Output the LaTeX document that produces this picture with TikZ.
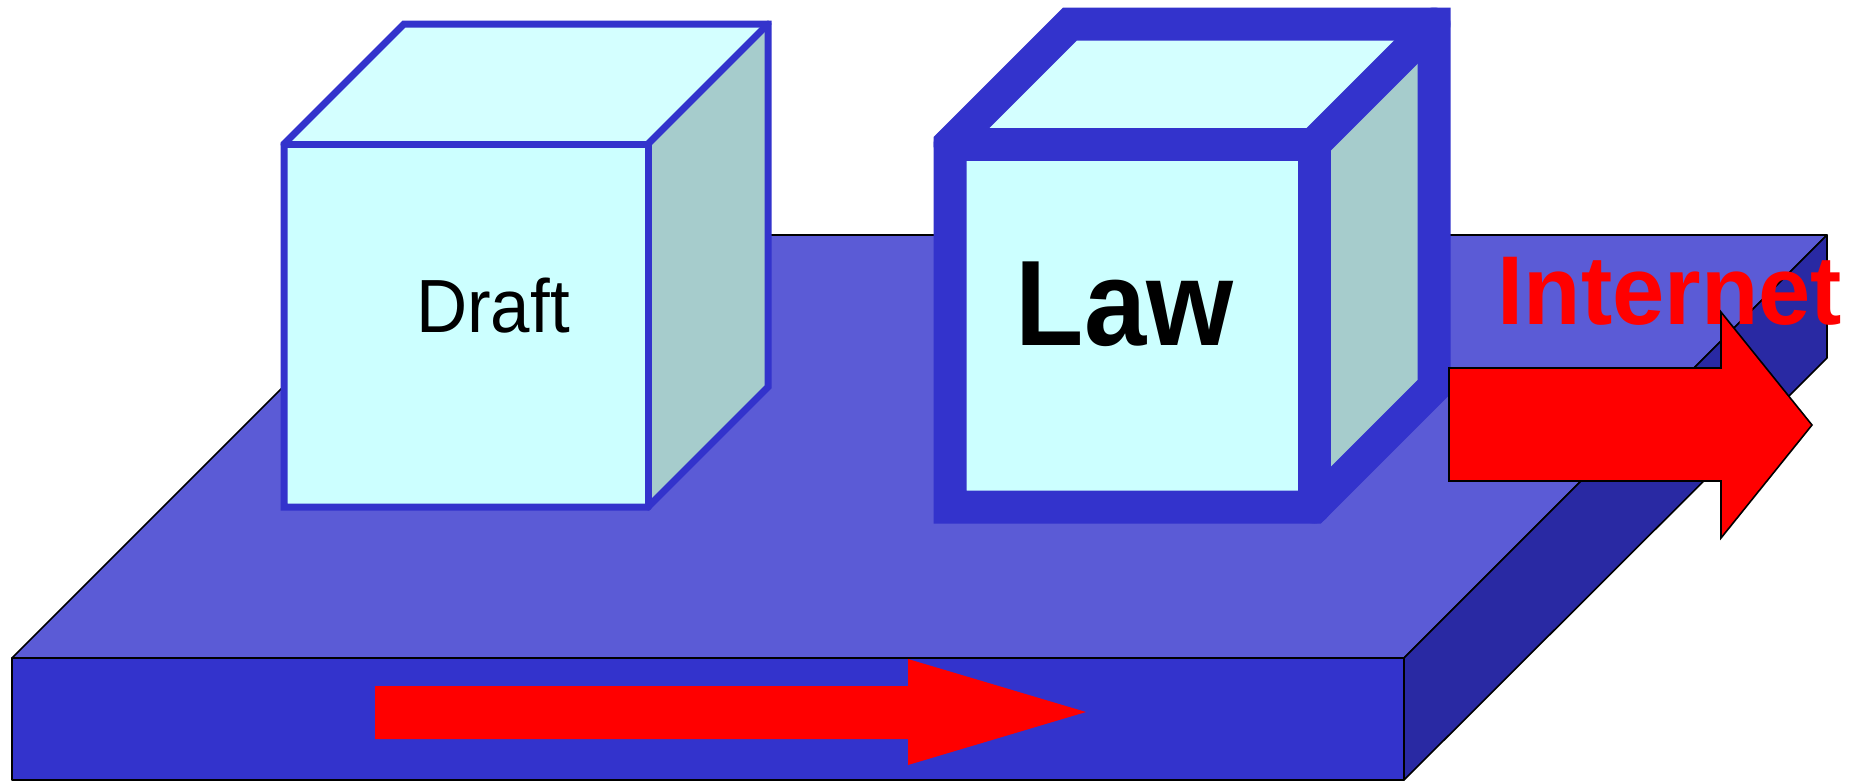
\documentclass[tikz,border=0pt]{standalone}
\usepackage{fontspec}
\setmainfont{Liberation Sans}
\definecolor{slabtop}{HTML}{5B5BD6}
\definecolor{slabfront}{HTML}{3333CC}
\definecolor{slabside}{HTML}{2929A3}
\definecolor{cubefront}{HTML}{CCFFFF}
\definecolor{cubetop}{HTML}{D4FFFF}
\definecolor{cubeside}{HTML}{A6CCCC}
\definecolor{cubeedge}{HTML}{3333CC}
\tikzset{
  slabface/.style={draw=black,line width=0.8pt,line join=round},
  cubeline/.style={draw=cubeedge,line join=miter},
  cubeinner/.style={draw=cubeedge,line cap=round,line join=miter},
  redarrow/.style={fill=red},
  outlinedarrow/.style={fill=red,draw=black,line width=0.8pt,line join=miter},
  lbl/.style={inner sep=0pt,anchor=base}
}
\newcommand{\mycube}[2]{%
  \begin{scope}[xshift=#1*0.5pt]
    \fill[cubefront] (284,144) rectangle (648,507);
    \fill[cubetop] (284,144) -- (404,24) -- (768,24) -- (648,144) -- cycle;
    \fill[cubeside] (648,144) -- (768,24) -- (768,387) -- (648,507) -- cycle;
    \draw[cubeline,line width=#2] (284,507) -- (284,144) -- (404,24) -- (768,24) -- (768,387) -- (648,507) -- cycle;
    \draw[cubeinner,line width=#2] (284,144) -- (648,144) -- (648,507);
    \draw[cubeinner,line width=#2] (648,144) -- (768,24);
  \end{scope}}
\begin{document}
\begin{tikzpicture}[x=0.5pt,y=-0.5pt]
\useasboundingbox (0,0) rectangle (1865,783);
% slab
\path[slabface,fill=slabtop] (12,658) -- (435,235) -- (1827,235) -- (1404,658) -- cycle;
\path[slabface,fill=slabside] (1404,658) -- (1827,235) -- (1827,358) -- (1404,780) -- cycle;
\path[slabface,fill=slabfront] (12,658) rectangle (1404,780);
% bottom arrow
\fill[redarrow] (375,686) -- (908,686) -- (908,659) -- (1086,712) -- (908,765) -- (908,739) -- (375,739) -- cycle;
% cubes
\mycube{0}{3.5pt}
\mycube{666}{16.5pt}
% texts
\node[lbl,font=\fontsize{37.7pt}{40pt}\selectfont] (draft) at (493,332) {\scalebox{0.94}[1]{Draft}};
\node[lbl,font=\fontsize{60.8pt}{64pt}\selectfont\bfseries] (law) at (1124.5,345) {\scalebox{0.92}[1]{Law}};
\node[lbl,text=red,font=\fontsize{48.9pt}{52pt}\selectfont\bfseries] (internet) at (1670,324) {\scalebox{0.96}[1]{Internet}};
% internet arrow
\draw[outlinedarrow] (1449,368) -- (1721,368) -- (1721,312) -- (1812,425) -- (1721,538) -- (1721,481) -- (1449,481) -- cycle;
\end{tikzpicture}
\end{document}
